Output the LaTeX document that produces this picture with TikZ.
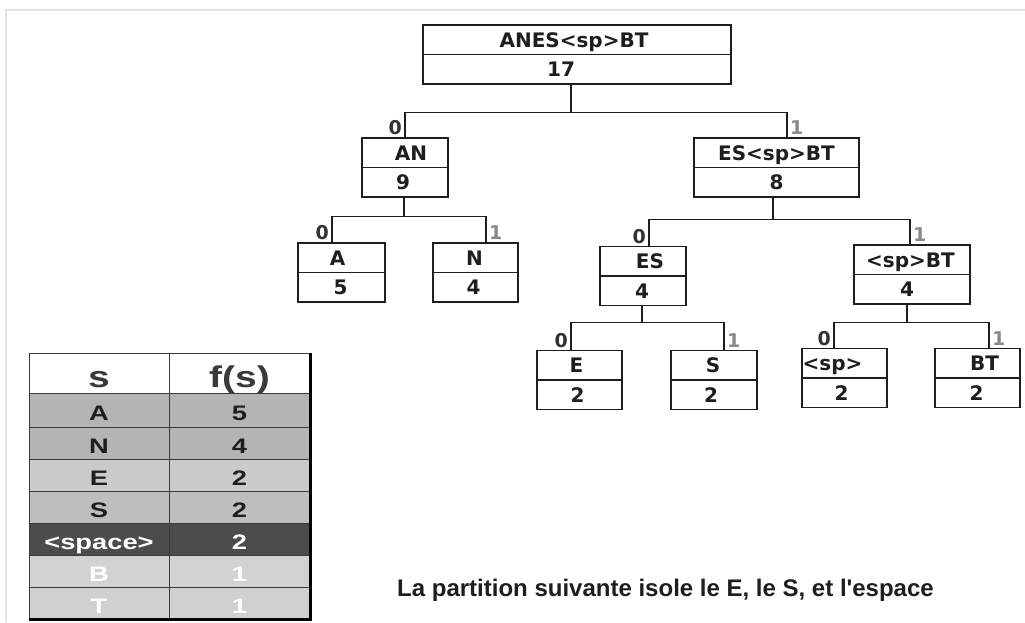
\documentclass[tikz,border=0pt]{standalone}
\usepackage{fontspec}
\setmainfont{Liberation Sans}
\newfontfamily\boxfont{DejaVu Sans}
\newfontfamily\tabfont[FakeStretch=1.3]{Liberation Sans}
\definecolor{inkdark}{HTML}{1E1E1E}
\definecolor{zerocol}{HTML}{333333}
\definecolor{onecol}{HTML}{8A8A8A}
\definecolor{frame}{HTML}{E4E4E4}
\definecolor{rowAN}{HTML}{B4B4B4}
\definecolor{rowE}{HTML}{CACACA}
\definecolor{rowS}{HTML}{BEBEBE}
\definecolor{rowSp}{HTML}{4C4C4C}
\definecolor{rowB}{HTML}{D2D2D2}
\definecolor{rowT}{HTML}{D0D0D0}
\definecolor{gridcol}{HTML}{3C3C3C}
\definecolor{headtxt}{HTML}{3A3A3A}

% one tree box: name, cx, cy, width, top text, top dx, bottom text, bottom dx
\newcommand\treebox[8]{%
  \node[tbox, minimum width=#4pt] (#1) at (#2,#3) {};
  \draw[link] (#1.west) -- (#1.east);
  \node[boxtxt] (#1-top) at ([xshift=#6pt, yshift=7.4pt]#1.center) {#5};
  \node[boxtxt] (#1-num) at ([xshift=#8pt, yshift=-22pt]#1.center) {#7};
}

\begin{document}
\begin{tikzpicture}[x=1pt, y=-1pt,
  link/.style={draw=inkdark, line width=1.2pt},
  tbox/.style={draw=inkdark, line width=1.2pt, fill=white, minimum height=59pt, inner sep=0pt},
  boxtxt/.style={anchor=base, inner sep=0pt, text=inkdark,
    font=\boxfont\bfseries\fontsize{20}{20}\selectfont},
  lblzero/.style={anchor=south east, inner xsep=2.5pt, inner ysep=2pt, text=zerocol,
    font=\boxfont\bfseries\fontsize{19}{19}\selectfont},
  lblone/.style={anchor=south west, inner xsep=2.5pt, inner ysep=2pt, text=onecol,
    font=\boxfont\bfseries\fontsize{19}{19}\selectfont},
  cell/.style={draw=gridcol, line width=1pt, inner sep=0pt, minimum height=32pt,
    text height=20pt, text depth=0pt, font=\tabfont\bfseries\fontsize{21}{21}\selectfont},
  headcell/.style={cell, fill=white, minimum height=40pt, text height=28pt,
    text=headtxt, font=\tabfont\bfseries\fontsize{30}{30}\selectfont},
  scol/.style={minimum width=140pt},
  fcol/.style={minimum width=141pt},
  caption/.style={anchor=base west, inner sep=0pt, text=inkdark,
    font=\bfseries\fontsize{24}{24}\selectfont}
]
\useasboundingbox (0,0) rectangle (1025,622);
\fill[white] (0,0) rectangle (1025,622);

% faint window frame
\draw[frame, line width=1.2pt] (6,622) -- (6,10) -- (1025,10);

% tree boxes
\treebox{root}{577}{54.5}{308}{ANES<sp>BT}{-3}{17}{-16}
\treebox{AN}{405}{167.5}{86}{AN}{6}{9}{-2}
\treebox{ESBT}{776.5}{167.5}{165}{ES<sp>BT}{0}{8}{0}
\treebox{A}{341.5}{272.5}{87}{A}{-4}{5}{-1}
\treebox{N}{475.5}{272.5}{85}{N}{-1}{4}{-2}
\treebox{ES}{643}{276}{86}{ES}{7}{4}{-1}
\treebox{spBT}{912}{274.5}{116}{<sp>BT}{-1.5}{4}{-5}
\treebox{E}{579.5}{380}{85}{E}{-3}{2}{-2}
\treebox{S}{714}{380}{86}{S}{-1}{2}{-3}
\treebox{sp}{844.5}{378}{85}{<sp>}{-12}{2}{-3}
\treebox{BT}{977.5}{378}{85}{BT}{7}{2}{-1}

% branches with their bit labels
\draw[link] ([xshift=-6pt]root.south) -- ++(0,28) coordinate (jroot)
  -| (AN.north) node[lblzero] {0};
\draw[link] (jroot) -| ([xshift=10.5pt]ESBT.north) node[lblone] {1};

\draw[link] ([xshift=-1pt]AN.south) -- ++(0,19) coordinate (jAN)
  -| ([xshift=-9.5pt]A.north) node[lblzero] {0};
\draw[link] (jAN) -| ([xshift=10.5pt]N.north) node[lblone] {1};

\draw[link] ([xshift=-3.5pt]ESBT.south) -- ++(0,21.5) coordinate (jESBT)
  -| ([xshift=6pt]ES.north) node[lblzero] {0};
\draw[link] (jESBT) -| ([xshift=-2pt]spBT.north) node[lblone] {1};

\draw[link] ([xshift=-1pt]ES.south) -- ++(0,16.5) coordinate (jES)
  -| ([xshift=-8.5pt]E.north) node[lblzero] {0};
\draw[link] (jES) -| ([xshift=10pt]S.north) node[lblone] {1};

\draw[link] ([xshift=-5pt]spBT.south) -- ++(0,18) coordinate (jspBT)
  -| ([xshift=-10.5pt]sp.north) node[lblzero] {0};
\draw[link] (jspBT) -| ([xshift=11.5pt]BT.north) node[lblone] {1};

% frequency table
\node[headcell, scol] (hs) at (99,373) {s};
\node[headcell, fcol] (hf) at (239.5,373) {f(s)};
\node[cell, scol, minimum height=34pt, fill=rowAN, text=inkdark] (sA) at (99,410) {A};
\node[cell, fcol, minimum height=34pt, fill=rowAN, text=inkdark] (fA) at (239.5,410) {5};
\node[cell, scol, fill=rowAN, text=inkdark] (sN) at (99,443) {N};
\node[cell, fcol, fill=rowAN, text=inkdark] (fN) at (239.5,443) {4};
\node[cell, scol, fill=rowE, text=inkdark] (sE) at (99,475) {E};
\node[cell, fcol, fill=rowE, text=inkdark] (fE) at (239.5,475) {2};
\node[cell, scol, fill=rowS, text=inkdark] (sS) at (99,507) {S};
\node[cell, fcol, fill=rowS, text=inkdark] (fS) at (239.5,507) {2};
\node[cell, scol, fill=rowSp, text=white] (sSp) at (99,539) {<space>};
\node[cell, fcol, fill=rowSp, text=white] (fSp) at (239.5,539) {2};
\node[cell, scol, fill=rowB, text=white] (sB) at (99,571) {B};
\node[cell, fcol, fill=rowB, text=white] (fB) at (239.5,571) {1};
\node[cell, scol, fill=rowT, text=white] (sT) at (99,603) {T};
\node[cell, fcol, fill=rowT, text=white] (fT) at (239.5,603) {1};
% heavier right and bottom edges
\draw[black, line width=2.2pt] (hf.north east) -- (fT.south east) -- (sT.south west);

% caption
\node[caption] (cap) at (397,596) {La partition suivante isole le E, le S, et l\textquotesingle espace};
\end{tikzpicture}
\end{document}
